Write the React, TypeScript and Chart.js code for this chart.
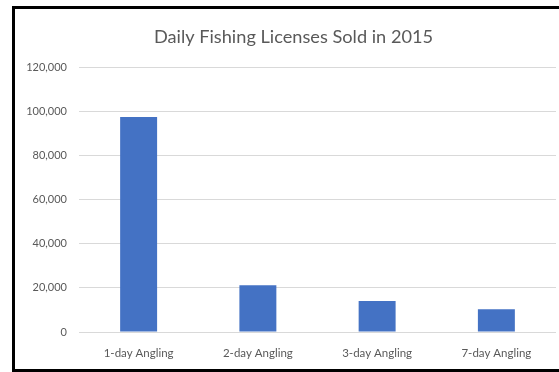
import React, { useEffect, useRef } from "react";
import { Chart, registerables } from "chart.js";

Chart.register(...registerables);

const categories = ["1-day Angling", "2-day Angling", "3-day Angling", "7-day Angling"];
const licensesSold = [97400, 21200, 14000, 10300];
const chartTitle = "Daily Fishing Licenses Sold in 2015";

const titlePlugin = {
  id: "centeredTitle",
  afterDraw(chart: any) {
    const c = chart.ctx;
    c.save();
    c.fillStyle = "#595959";
    c.font = "18.2px Lato";
    c.textAlign = "center";
    c.textBaseline = "middle";
    c.fillText(chartTitle, 293.5, 37);
    c.restore();
  },
};

export default function App() {
  const canvasRef = useRef<HTMLCanvasElement | null>(null);

  useEffect(() => {
    const ctx = canvasRef.current!;
    const chart = new Chart(ctx, {
      type: "bar",
      data: {
        labels: categories,
        datasets: [
          {
            data: licensesSold,
            backgroundColor: "#4472C4",
            categoryPercentage: 1,
            barPercentage: 0.31,
          },
        ],
      },
      options: {
        animation: false,
        responsive: false,
        layout: { padding: { left: 15, right: 3, top: 67, bottom: 10 } },
        plugins: {
          legend: { display: false },
          tooltip: { enabled: false },
          title: { display: false },
        },
        scales: {
          x: {
            grid: { display: false },
            border: { display: false },
            ticks: {
              color: "#595959",
              font: { family: "Lato", size: 11.5 },
              padding: 6,
            },
            afterFit: (s: any) => {
              s.height = 30;
            },
          },
          y: {
            min: 0,
            max: 120000,
            ticks: {
              stepSize: 20000,
              color: "#595959",
              font: { family: "Lato", size: 11 },
              padding: 12,
              callback: (v: any) => Number(v).toLocaleString("en-US"),
            },
            grid: { color: "#D9D9D9", drawTicks: false },
            border: { display: false },
            afterFit: (s: any) => {
              s.width = 64;
            },
          },
        },
      },
      plugins: [titlePlugin],
    });
    return () => chart.destroy();
  }, []);

  return (
    <div style={{ position: "absolute", left: 0, top: 0, width: 559, height: 372, background: "#fff" }}>
      <canvas ref={canvasRef} width={559} height={372} style={{ position: "absolute", left: 0, top: 0 }} />
      <div
        style={{
          position: "absolute",
          left: 12,
          top: 6,
          width: 560,
          height: 360,
          borderLeft: "3px solid #000",
          borderTop: "3px solid #000",
          borderBottom: "3px solid #000",
          pointerEvents: "none",
        }}
      />
    </div>
  );
}
